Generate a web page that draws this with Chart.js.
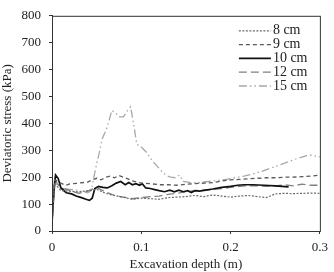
<!DOCTYPE html>
<html>
<head>
<meta charset="utf-8">
<script src="https://cdn.jsdelivr.net/npm/chart.js@4.4.1/dist/chart.umd.min.js"></script>
<style>
    body { margin: 0; background: #fff; }
    #wrap { width: 334px; height: 272px; }
</style>
</head>
<body>
<div id="wrap"><canvas id="stressChart" width="334" height="272"></canvas></div>
<script>
// depth (m) and deviatoric stress (kPa) for each spacing
const d8 = [0, 0.003, 0.006, 0.01, 0.02, 0.03, 0.04, 0.05, 0.06, 0.07, 0.08, 0.09, 0.1, 0.11, 0.12, 0.13, 0.14, 0.15, 0.16, 0.17, 0.18, 0.19, 0.2, 0.21, 0.22, 0.23, 0.24, 0.25, 0.26, 0.27, 0.28, 0.29, 0.3];
const s8 = [40, 180, 165, 150, 148, 145, 150, 155, 140, 132, 125, 118, 122, 120, 118, 124, 126, 128, 132, 128, 134, 130, 126, 130, 132, 128, 124, 138, 140, 139, 140, 141, 140];

const d9 = [0, 0.003, 0.006, 0.01, 0.015, 0.02, 0.03, 0.04, 0.045, 0.05, 0.055, 0.06, 0.065, 0.07, 0.075, 0.08, 0.085, 0.09, 0.1, 0.11, 0.12, 0.13, 0.14, 0.15, 0.16, 0.17, 0.18, 0.19, 0.2, 0.21, 0.22, 0.23, 0.24, 0.25, 0.26, 0.27, 0.28, 0.29, 0.3];
const s9 = [30, 190, 185, 178, 170, 175, 178, 182, 190, 196, 190, 200, 204, 198, 206, 200, 194, 186, 178, 176, 172, 172, 170, 174, 176, 178, 180, 186, 190, 192, 194, 196, 198, 198, 200, 200, 202, 204, 208];

const d10 = [0, 0.002, 0.004, 0.007, 0.01, 0.016, 0.022, 0.027, 0.033, 0.038, 0.042, 0.045, 0.048, 0.052, 0.057, 0.062, 0.067, 0.072, 0.077, 0.082, 0.086, 0.09, 0.094, 0.098, 0.101, 0.105, 0.11, 0.115, 0.12, 0.126, 0.132, 0.137, 0.142, 0.147, 0.152, 0.156, 0.16, 0.165, 0.172, 0.18, 0.19, 0.2, 0.208, 0.215, 0.225, 0.237, 0.25, 0.265];
const s10 = [30, 140, 208, 195, 160, 142, 138, 130, 124, 118, 114, 122, 158, 166, 162, 160, 168, 178, 184, 172, 180, 172, 176, 170, 176, 160, 158, 154, 150, 146, 152, 146, 152, 146, 150, 143, 150, 148, 152, 156, 162, 166, 170, 172, 172, 170, 168, 164];

const d12 = [0, 0.003, 0.006, 0.01, 0.02, 0.03, 0.04, 0.05, 0.06, 0.07, 0.08, 0.09, 0.1, 0.11, 0.12, 0.13, 0.14, 0.15, 0.16, 0.17, 0.18, 0.19, 0.2, 0.21, 0.22, 0.23, 0.24, 0.25, 0.26, 0.27, 0.28, 0.29, 0.3];
const s12 = [30, 200, 175, 160, 150, 140, 148, 162, 145, 132, 126, 120, 124, 128, 130, 136, 140, 146, 150, 152, 154, 158, 162, 166, 168, 168, 166, 168, 172, 168, 174, 170, 170];

const d15 = [0, 0.003, 0.006, 0.01, 0.02, 0.03, 0.04, 0.044, 0.047, 0.05, 0.053, 0.056, 0.062, 0.067, 0.071, 0.075, 0.08, 0.084, 0.088, 0.091, 0.095, 0.099, 0.106, 0.112, 0.117, 0.122, 0.128, 0.133, 0.138, 0.143, 0.147, 0.155, 0.165, 0.175, 0.185, 0.195, 0.205, 0.215, 0.225, 0.235, 0.245, 0.255, 0.265, 0.275, 0.285, 0.29, 0.3];
const s15 = [30, 195, 175, 160, 155, 150, 142, 150, 202, 250, 292, 340, 388, 448, 440, 424, 424, 445, 462, 406, 322, 316, 292, 262, 244, 225, 206, 200, 198, 208, 184, 180, 180, 184, 188, 192, 198, 204, 212, 222, 234, 246, 258, 270, 280, 282, 276];

const seriesLabels = ["8 cm", "9 cm", "10 cm", "12 cm", "15 cm"];
const xTicks = [0, 0.1, 0.2, 0.3];

const serif = "'Liberation Serif', 'DejaVu Serif', serif";

function pts(xs, ys) {
    return xs.map((x, i) => ({ x: x, y: ys[i] }));
}

// legend inside the box + top/right frame
const frameLegend = {
    id: "frameLegend",
    afterDraw(chart) {
        const ctx = chart.ctx;
        const a = chart.chartArea;
        ctx.save();
        ctx.strokeStyle = "#333";
        ctx.lineWidth = 1;
        ctx.setLineDash([]);
        ctx.strokeRect(a.left + 0.5, a.top + 0.5, a.right - a.left, a.bottom - a.top);

        chart.data.datasets.forEach((ds, i) => {
            let y = a.top + 15 + i * 13.8;
            ctx.beginPath();
            ctx.strokeStyle = ds.borderColor;
            ctx.lineWidth = ds.borderWidth;
            ctx.setLineDash(ds.borderDash || []);
            ctx.moveTo(a.right - 81, y);
            ctx.lineTo(a.right - 49, y);
            ctx.stroke();
            ctx.setLineDash([]);
            ctx.fillStyle = "#222";
            ctx.font = "14px " + serif;
            ctx.textBaseline = "middle";
            ctx.fillText(ds.label, a.right - 47, y);
        });
        ctx.restore();
    }
};

new Chart(document.getElementById("stressChart"), {
    type: "line",
    data: {
        datasets: [
            { label: seriesLabels[0], data: pts(d8, s8), borderColor: "#6a6a6a", borderWidth: 1.2, borderDash: [2, 1.5] },
            { label: seriesLabels[1], data: pts(d9, s9), borderColor: "#5a5a5a", borderWidth: 1.3, borderDash: [4, 3] },
            { label: seriesLabels[2], data: pts(d10, s10), borderColor: "#111", borderWidth: 1.7, borderDash: [] },
            { label: seriesLabels[3], data: pts(d12, s12), borderColor: "#808080", borderWidth: 1.3, borderDash: [8, 4] },
            { label: seriesLabels[4], data: pts(d15, s15), borderColor: "#a8a8a8", borderWidth: 1.3, borderDash: [8, 3, 1.5, 3, 1.5, 3] }
        ]
    },
    options: {
        responsive: false,
        animation: false,
        events: [],
        layout: { padding: { top: 9, right: 10, bottom: 0, left: 0 } },
        elements: { point: { radius: 0 }, line: { tension: 0 } },
        plugins: { legend: { display: false }, tooltip: { enabled: false } },
        scales: {
            x: {
                type: "linear",
                min: 0,
                max: 0.3,
                afterBuildTicks: scale => { scale.ticks = xTicks.map(v => ({ value: v })); },
                afterFit: scale => { scale.height = 41; },
                border: { color: "#333", width: 1 },
                grid: { drawOnChartArea: false, tickLength: 3, color: "#333" },
                ticks: { color: "#222", padding: 6, maxRotation: 0, font: { family: serif, size: 13 },
                    callback: v => String(v) },
                title: { display: true, text: "Excavation depth (m)", color: "#222",
                    font: { family: serif, size: 13 }, padding: { top: 0, bottom: 0 } }
            },
            y: {
                min: 0,
                max: 800,
                afterFit: scale => { scale.width = 52; },
                border: { color: "#333", width: 1 },
                grid: { drawOnChartArea: false, tickLength: 3, color: "#333" },
                ticks: { stepSize: 100, color: "#222", padding: 8, font: { family: serif, size: 13 } },
                title: { display: true, text: "Deviatoric stress (kPa)", color: "#222",
                    font: { family: serif, size: 13 }, padding: { top: 0, bottom: 0 } }
            }
        }
    },
    plugins: [frameLegend]
});
</script>
</body>
</html>
